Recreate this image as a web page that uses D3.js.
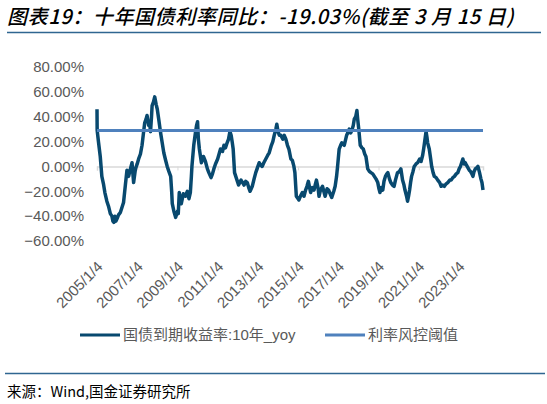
<!DOCTYPE html>
<html><head><meta charset="utf-8">
<script src="https://cdn.jsdelivr.net/npm/d3@7"></script>
<style>
html,body{margin:0;padding:0;background:#fff;}
svg{display:block;}
</style></head>
<body>
<svg id="c" width="547" height="404"></svg>
<script>
const titleText = "图表19：十年国债利率同比：-19.03%(截至 3 月 15 日)";
const sourceText = "来源：Wind,国金证券研究所";
const seriesNames = ["国债到期收益率:10年_yoy", "利率风控阈值"];
const yTicks = [-60, -40, -20, 0, 20, 40, 60, 80];
const xTickLabels = ["2005/1/4","2007/1/4","2009/1/4","2011/1/4","2013/1/4","2015/1/4","2017/1/4","2019/1/4","2021/1/4","2023/1/4"];
const dates = [
"2005-01-04","2005-01-07","2005-01-30","2005-03-04","2005-04-02","2005-05-01","2005-05-27","2005-07-02","2005-08-01","2005-09-03",
"2005-10-02","2005-10-20","2005-11-07","2005-11-26","2005-12-14","2006-01-04","2006-01-30","2006-03-04","2006-04-02","2006-05-01",
"2006-06-03","2006-07-02","2006-08-01","2006-09-03","2006-10-02","2006-10-31","2006-12-03","2007-01-04","2007-01-30","2007-03-04",
"2007-04-02","2007-05-01","2007-05-20","2007-06-14","2007-07-02","2007-08-01","2007-08-15","2007-09-03","2007-09-21","2007-10-02",
"2007-10-27","2007-11-18","2007-12-14","2008-01-04","2008-01-30","2008-03-04","2008-04-02","2008-05-01","2008-06-03","2008-07-02",
"2008-08-01","2008-09-03","2008-09-21","2008-10-02","2008-10-31","2008-12-03","2009-01-04","2009-01-19","2009-02-06","2009-02-25",
"2009-03-15","2009-04-21","2009-05-27","2009-07-02","2009-08-01","2009-08-26","2009-09-14","2009-09-24","2009-10-27","2009-11-26",
"2009-12-17","2010-01-04","2010-01-19","2010-02-06","2010-03-15","2010-04-21","2010-05-27","2010-07-02","2010-07-28","2010-09-06",
"2010-10-02","2010-10-27","2010-11-26","2011-01-04","2011-01-30","2011-02-25","2011-04-02","2011-04-28","2011-05-27","2011-06-25",
"2011-07-21","2011-08-15","2011-09-06","2011-09-24","2011-10-13","2011-11-07","2011-12-14","2012-01-19","2012-03-04","2012-04-02",
"2012-04-28","2012-05-27","2012-06-25","2012-07-21","2012-08-15","2012-09-24","2012-10-27","2012-11-26","2013-01-04","2013-01-27",
"2013-02-25","2013-03-22","2013-04-21","2013-05-27","2013-07-02","2013-07-28","2013-09-06","2013-10-02","2013-10-27","2013-11-26",
"2013-12-14","2014-01-04","2014-01-30","2014-02-25","2014-04-02","2014-04-28","2014-05-27","2014-06-25","2014-07-21","2014-08-26",
"2014-09-21","2014-10-20","2014-11-07","2014-12-03","2015-01-04","2015-01-19","2015-02-14","2015-03-22","2015-04-21","2015-05-20",
"2015-06-14","2015-07-10","2015-08-01","2015-08-19","2015-09-21","2015-10-20","2015-11-15","2015-12-03","2016-01-04","2016-01-19",
"2016-02-14","2016-03-22","2016-04-21","2016-05-09","2016-06-14","2016-07-10","2016-08-08","2016-09-06","2016-10-13","2016-11-07",
"2016-12-03","2016-12-21","2017-01-19","2017-02-14","2017-03-08","2017-04-21","2017-06-03","2017-06-25","2017-07-21","2017-08-15",
"2017-09-06","2017-10-02","2017-10-20","2017-11-15","2017-12-07","2017-12-21","2018-01-10","2018-02-06","2018-03-08","2018-04-02",
"2018-04-28","2018-05-20","2018-06-22","2018-07-21","2018-08-19","2018-09-21","2018-10-20","2018-11-18","2018-12-21","2019-01-12",
"2019-01-30","2019-02-25","2019-03-22","2019-04-13","2019-05-09","2019-06-03","2019-06-22","2019-07-21","2019-08-15","2019-09-14",
"2019-10-13","2019-11-07","2019-12-14","2020-01-19","2020-02-14","2020-03-15","2020-04-10","2020-04-28","2020-05-27","2020-06-14",
"2020-07-02","2020-07-21","2020-08-08","2020-08-26","2020-09-21","2020-10-13","2020-11-15","2020-12-14","2021-01-19","2021-02-14",
"2021-03-15","2021-04-02","2021-04-21","2021-05-09","2021-05-16","2021-06-03","2021-06-14","2021-07-13","2021-08-08","2021-08-26",
"2021-09-21","2021-10-13","2021-11-15","2021-12-14","2022-01-19","2022-02-14","2022-03-15","2022-04-13","2022-05-16","2022-06-14",
"2022-07-21","2022-08-15","2022-09-14","2022-10-13","2022-11-15","2022-12-14","2023-01-07","2023-01-30","2023-02-21","2023-03-15",
"2023-04-06","2023-04-28","2023-05-20","2023-06-14","2023-07-10","2023-08-01","2023-08-26","2023-09-14","2023-10-05","2023-10-27",
"2023-11-26","2023-12-14","2024-01-12","2024-02-06","2024-02-25","2024-03-15"
];
const yoy = [
46,29,20,8,-8,-14,-21,-28,-32,-38,
-40,-44,-45,-40,-44,-42,-39,-37,-33,-29,
-15,-3,-8,-2,3,-13,-2,2,6,10,
17,28,35,38,41,33,36,28,40,49,
52,56,50,46,38,27,19,11,5,0,
-4,-8,-20,-30,-36,-41,-36,-38,-21,-26,
-30,-22,-24,-20,-26,-21,-8,0,17,27,
33,36,22,14,3,8,4,-2,-5,-9,
-6,-2,2,6,10,14,12,17,15,19,
22,28,25,20,14,-5,-10,-15,-11,-13,
-15,-12,-13,-17,-20,-16,-10,-5,0,3,
1,0,3,6,9,11,17,20,25,30,
34,28,25,25,22,25,22,17,14,6,
5,0,-5,-24,-26,-27,-24,-21,-24,-19,
-16,-12,-17,-21,-17,-19,-14,-11,-18,-24,
-19,-16,-21,-24,-18,-19,-22,-25,-20,-16,
-8,0,14,17,19,17,25,27,30,27,
29,33,38,40,45,38,30,17,15,14,
10,8,-2,-4,-5,-6,-8,-10,-13,-18,
-21,-17,-19,-12,-8,-6,-5,-10,-13,-15,
-16,-11,-5,-4,-2,-11,-15,-19,-24,-28,
-24,-19,-13,-8,-4,0,2,3,6,4,
9,14,20,26,28,23,19,14,6,0,
-5,-8,-9,-11,-13,-16,-15,-16,-14,-13,
-11,-11,-9,-8,-6,-5,-2,0,3,6,
2,3,1,-1,-3,-4,-6,-8,-4,-2,
-1,0,-5,-10,-13,-19.03
];
const thresholdValue = 29;

const parse = d3.timeParse("%Y-%m-%d");
const parseTick = d3.timeParse("%Y/%m/%d");
const data = dates.map((d, i) => ({date: parse(d), v: yoy[i]}));

const svg = d3.select("#c");
const grey = "#595959";
const cnFont = "'Liberation Sans','Noto Sans CJK SC',Arial,sans-serif";

// title
svg.append("text").attr("x", 7).attr("y", 24)
  .attr("font-family", "'Noto Sans CJK SC',sans-serif")
  .attr("font-size", 20).attr("font-style", "italic").attr("font-weight", 500)
  .attr("letter-spacing", 0.6).attr("fill", "#000")
  .text(titleText);
svg.append("line").attr("x1", 7).attr("x2", 541).attr("y1", 32.5).attr("y2", 32.5)
  .attr("stroke", "#2f6691").attr("stroke-width", 1.5);

const x = d3.scaleTime()
  .domain([parse("2005-01-04"), parse("2024-03-15")])
  .range([97, 483]);
const y = d3.scaleLinear().domain([-60, 80]).range([241, 67]);

// y axis labels
const yAxis = d3.axisLeft(y).tickValues(yTicks).tickSize(0).tickPadding(0)
  .tickFormat(d => d3.format(".2f")(d) + "%");
const gy = svg.append("g").attr("transform", "translate(84,0)").call(yAxis);
gy.select(".domain").remove();
gy.selectAll("text").attr("font-family", cnFont).attr("font-size", 15).attr("fill", grey);

// zero axis with ticks
const tickDates = xTickLabels.map(s => parseTick(s));
const xAxis = d3.axisBottom(x).tickValues(tickDates).tickSize(4).tickFormat("");
const gx = svg.append("g").attr("transform", `translate(0,${y(0)})`).call(xAxis);
gx.select(".domain").attr("stroke", "#d9d9d9").attr("stroke-width", 1.5);
gx.selectAll(".tick line").attr("stroke", "#d9d9d9");

// x labels rotated
svg.append("g").selectAll("text").data(tickDates).join("text")
  .attr("transform", (d, i) => `translate(${x(d) + 3},${264}) rotate(-45)`)
  .attr("text-anchor", "end").attr("dy", "0.35em")
  .attr("font-family", cnFont).attr("font-size", 15).attr("fill", grey)
  .text((d, i) => xTickLabels[i]);

// series
const line = d3.line().x(d => x(d.date)).y(d => y(d.v));
svg.append("path").datum(data).attr("d", line)
  .attr("fill", "none").attr("stroke", "#08496f").attr("stroke-width", 3.5)
  .attr("stroke-linejoin", "round");

const thrData = [data[0].date, data[data.length - 1].date].map(d => ({date: d, v: thresholdValue}));
svg.append("path").datum(thrData).attr("d", line)
  .attr("fill", "none").attr("stroke", "#4f81bd").attr("stroke-width", 3);

// legend
const legendItems = [
  {name: seriesNames[0], color: "#08496f", x1: 80},
  {name: seriesNames[1], color: "#4f81bd", x1: 325}
];
const lg = svg.append("g");
legendItems.forEach(it => {
  lg.append("line").attr("x1", it.x1).attr("x2", it.x1 + 40).attr("y1", 335).attr("y2", 335)
    .attr("stroke", it.color).attr("stroke-width", 3);
  lg.append("text").attr("x", it.x1 + 43).attr("y", 335).attr("dy", "0.35em")
    .attr("font-family", cnFont).attr("font-size", 15).attr("fill", grey).text(it.name);
});

// source
svg.append("line").attr("x1", 5).attr("x2", 545).attr("y1", 373.5).attr("y2", 373.5)
  .attr("stroke", "#2f6691").attr("stroke-width", 1.5);
svg.append("text").attr("x", 7).attr("y", 397)
  .attr("font-family", "'Noto Sans CJK SC',sans-serif").attr("font-size", 14.5).attr("fill", "#000")
  .text(sourceText);
</script>
</body></html>
